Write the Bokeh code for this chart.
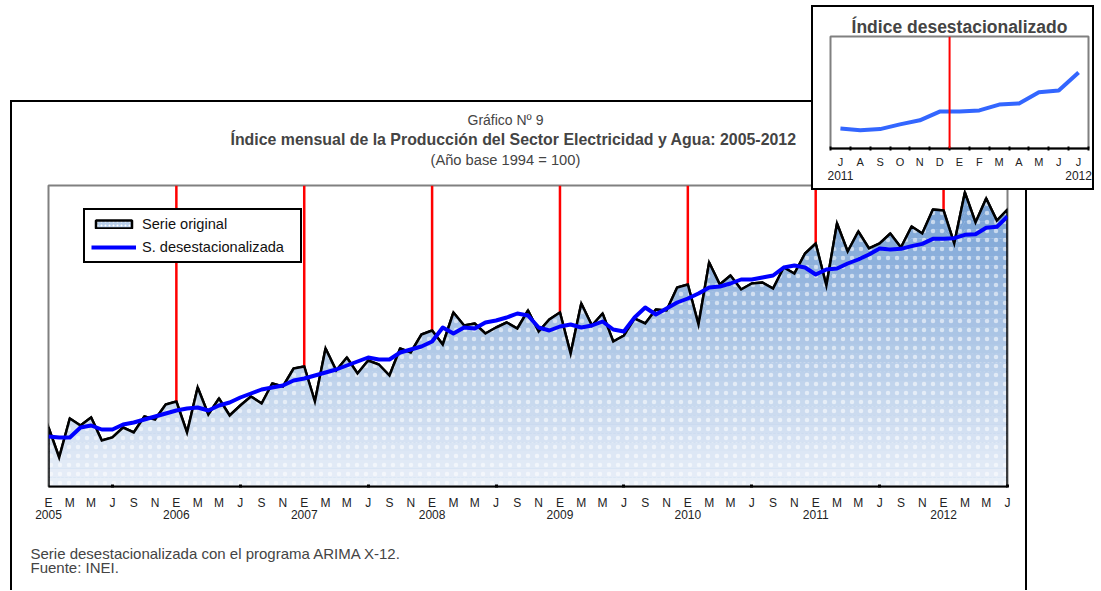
import numpy as np
from bokeh.plotting import figure
from bokeh.models import (Range1d, FixedTicker, LinearAxis, Title, Legend, LegendItem,
                          Span, Column)
from bokeh.embed import file_html
from bokeh.resources import INLINE

# ---------------- data ----------------
month_letters = ["E", "F", "M", "A", "M", "J", "J", "A", "S", "O", "N", "D"]
years = ["2005", "2006", "2007", "2008", "2009", "2010", "2011", "2012"]

# Serie original, Ene 2005 - Jul 2012 (index, units of the chart)
original = [
    167.7, 158.7, 170.4, 168.3, 170.7, 163.8, 164.7, 167.7, 166.2, 171.0, 170.1, 174.6,
    175.5, 166.2, 179.7, 171.6, 176.4, 171.3, 174.3, 177.0, 174.9, 180.9, 180.0, 185.4,
    186.0, 175.5, 191.4, 184.8, 188.7, 183.9, 187.8, 186.6, 183.3, 191.4, 190.2, 195.6,
    196.8, 192.6, 202.2, 198.3, 198.9, 195.9, 197.7, 199.2, 197.4, 202.8, 196.5, 200.1,
    202.2, 189.9, 204.9, 198.3, 201.9, 193.5, 195.3, 200.4, 198.9, 203.1, 202.8, 209.7,
    210.6, 198.6, 217.2, 210.6, 213.3, 209.1, 210.9, 211.2, 209.4, 215.7, 213.9, 219.9,
    222.9, 210.3, 228.9, 220.5, 226.5, 221.4, 222.9, 225.9, 221.7, 228.0, 225.9, 233.1,
    232.8, 222.9, 238.2, 229.2, 236.4, 229.8, 233.1,
]
# Serie desestacionalizada
desest = [
    165.0, 164.7, 164.7, 167.7, 168.3, 167.1, 167.1, 168.6, 169.2, 170.1, 171.0, 171.9,
    172.8, 173.4, 173.7, 172.8, 174.3, 175.2, 176.7, 177.9, 179.1, 179.7, 180.3, 181.8,
    182.4, 183.3, 184.2, 185.1, 186.3, 187.5, 188.7, 188.1, 188.1, 190.2, 191.1, 192.0,
    193.5, 197.7, 195.9, 197.7, 197.4, 199.2, 199.8, 200.7, 201.9, 201.3, 197.7, 196.8,
    198.0, 198.6, 197.7, 198.3, 199.5, 197.1, 196.5, 200.7, 203.7, 201.6, 203.4, 205.2,
    206.4, 207.9, 209.7, 210.0, 210.9, 212.1, 212.1, 212.7, 213.3, 215.7, 216.3, 215.7,
    213.6, 215.1, 215.4, 216.9, 218.1, 219.6, 221.4, 221.1, 221.3, 222.1, 222.8, 224.3,
    224.3, 224.5, 225.5, 225.7, 227.6, 227.9, 231.0,
]
inset_months = ["J", "A", "S", "O", "N", "D", "E", "F", "M", "A", "M", "J", "J"]
inset_years = ["2011", "2012"]
inset_start = 78  # Jul 2011

FONT = "Liberation Sans"

x = list(range(len(original)))
n_last = x[-1]
Y0, Y1 = 150.0, 240.3

# ---------------- main figure ----------------
p = figure(width=1017, height=490, x_range=Range1d(0, n_last), y_range=Range1d(Y0, Y1),
           output_backend="svg", toolbar_location=None, y_axis_location=None,
           min_border_left=38, min_border_right=20, min_border_top=85, min_border_bottom=104,
           title=None)
try:
    p.frame_align = False
except Exception:
    pass
p.xgrid.visible = False
p.ygrid.visible = False
p.outline_line_color = "#808080"
p.outline_line_width = 2
p.background_fill_color = "white"
p.border_fill_alpha = 0

outline_x = [x[0]] + x + [x[-1]]
outline_y = [Y0] + original + [Y0]

# legend patch (under the gradient)
patch_r = p.patch(outline_x, outline_y, fill_color="#b9cfea", line_color="black", line_width=2.5,
                  hatch_pattern="dot", hatch_color="white", hatch_scale=4, hatch_weight=1)

# gradient fill built from bands
NB = 34
edges = np.linspace(Y0, Y1, NB + 1)
top_rgb = np.array([112, 156, 210])
bot_rgb = np.array([234, 240, 249])
orig_arr = np.array(original)
for k in range(NB):
    f = ((edges[k] + edges[k + 1]) / 2 - Y0) / (Y1 - Y0)
    c = bot_rgb + (top_rgb - bot_rgb) * f
    col = "#%02x%02x%02x" % tuple(int(round(v)) for v in c)
    p.varea(x=x, y1=np.minimum(orig_arr, edges[k]), y2=np.minimum(orig_arr, edges[k + 1]),
            fill_color=col)

# dotted texture
p.varea(x=x, y1=Y0, y2=original, fill_alpha=0, hatch_pattern="dot", hatch_color="white",
        hatch_alpha=0.55, hatch_scale=9, hatch_weight=1)

# red January markers
jan_idx = [i for i in x if i % 12 == 0 and i > 0]
jan_val = [original[i] for i in jan_idx]
p.segment(x0=jan_idx, y0=jan_val, x1=jan_idx, y1=[Y1] * len(jan_idx), line_color="#ff0000",
          line_width=2.5)

p.line(outline_x, outline_y, line_color="black", line_width=2.5, line_join="miter")
blue_r = p.line(x, desest, line_color="#0000ff", line_width=4, line_join="round")

legend = Legend(items=[LegendItem(label="Serie original", renderers=[patch_r]),
                       LegendItem(label="S. desestacionalizada", renderers=[blue_r])],
                location=(35, 223), border_line_color="black", border_line_width=2,
                border_line_alpha=1.0,
                padding=6, spacing=7, margin=0, glyph_width=45, glyph_height=10,
                label_height=12, label_width=152, label_standoff=6, label_text_font=FONT,
                label_text_font_size="14.6px", label_text_color="#111111",
                background_fill_alpha=1)
p.add_layout(legend)

xa = p.xaxis[0]
xa.ticker = FixedTicker(ticks=list(range(0, len(x), 2)), minor_ticks=list(range(6, len(x), 12)))
xa.major_label_overrides = {i: month_letters[i % 12] for i in range(0, len(x), 2)}
xa.axis_line_color = "black"
xa.axis_line_width = 2
xa.major_tick_line_color = None
xa.major_tick_in = 0
xa.major_tick_out = 0
xa.minor_tick_line_color = "black"
xa.minor_tick_line_width = 3
xa.minor_tick_in = 2
xa.minor_tick_out = 1
xa.major_label_standoff = 8
xa.major_label_text_font = FONT
xa.major_label_text_font_size = "12px"
xa.major_label_text_color = "#222222"

ya = LinearAxis(ticker=FixedTicker(ticks=list(range(0, len(x), 12))),
                major_label_overrides={i: years[i // 12] for i in range(0, len(x), 12)},
                axis_line_color=None, major_tick_line_color=None, minor_tick_line_color=None,
                major_tick_in=0, major_tick_out=0, major_label_standoff=-3,
                major_label_text_font=FONT, major_label_text_font_size="12px",
                major_label_text_color="#222222")
p.add_layout(ya, "below")

# titles: stacked outward from the frame (a blank spacer first)
p.add_layout(Title(text=" ", align="left", standoff=0, text_font=FONT,
                   text_font_size="14px"), "above")
p.add_layout(Title(text="(Año base 1994 = 100)", align="left", offset=382, standoff=0,
                   text_font=FONT, text_font_size="14.7px", text_font_style="normal"), "above")
p.add_layout(Title(text="Índice mensual de la Producción del Sector Electricidad y Agua: 2005-2012",
                   align="left", offset=182, standoff=3, text_font=FONT,
                   text_font_size="15.9px", text_font_style="bold"), "above")
p.add_layout(Title(text="Gráfico Nº 9", align="left", offset=419, standoff=0,
                   text_font=FONT, text_font_size="14px", text_font_style="normal"), "above")

# footnote: blank spacer, then the two lines
p.add_layout(Title(text=" ", align="left", standoff=5, text_font=FONT,
                   text_font_size="14px"), "below")
p.add_layout(Title(text="Serie desestacionalizada con el programa ARIMA X-12.\nFuente: INEI.",
                   align="left", offset=-18, standoff=0, vertical_align="top",
                   text_font=FONT, text_font_size="15px", text_line_height=0.84,
                   text_font_style="normal"), "below")

# ---------------- inset figure ----------------
ix = list(range(len(inset_months)))
q = figure(frame_width=258, frame_height=112, x_range=Range1d(-0.5, ix[-1] + 0.5),
           y_range=Range1d(217.97, 237.17), output_backend="svg", toolbar_location=None,
           y_axis_location=None, min_border_left=19, min_border_right=6, min_border_top=31,
           min_border_bottom=42, title="Índice desestacionalizado")
try:
    q.frame_align = False
except Exception:
    pass
q.title.align = "center"
q.title.text_font = FONT
q.title.text_font_size = "17.5px"
q.title.text_font_style = "bold"
q.title.standoff = 0
q.xgrid.visible = False
q.ygrid.visible = False
q.outline_line_color = "#808080"
q.outline_line_width = 2
q.border_fill_alpha = 0
q.line(ix, desest[inset_start:inset_start + len(ix)], line_color="#3366ff", line_width=4,
       line_join="round")
q.add_layout(Span(location=5.5, dimension="height", line_color="#ff0000", line_width=2))

qa = q.xaxis[0]
qa.ticker = FixedTicker(ticks=ix, minor_ticks=[i - 0.5 for i in ix] + [ix[-1] + 0.5])
qa.major_label_overrides = {i: m for i, m in zip(ix, inset_months)}
qa.axis_line_color = "black"
qa.axis_line_width = 2
qa.major_tick_line_color = None
qa.major_tick_in = 0
qa.major_tick_out = 0
qa.minor_tick_line_color = "black"
qa.minor_tick_line_width = 2
qa.minor_tick_in = 2
qa.minor_tick_out = 2
qa.major_label_standoff = 5
qa.major_label_text_font = FONT
qa.major_label_text_font_size = "11px"
qa.major_label_text_color = "#222222"

qy = LinearAxis(ticker=FixedTicker(ticks=[ix[0], ix[-1]]),
                major_label_overrides={ix[0]: inset_years[0], ix[-1]: inset_years[1]},
                axis_line_color=None, major_tick_line_color=None, minor_tick_line_color=None,
                major_tick_in=0, major_tick_out=0, major_label_standoff=0,
                major_label_text_font=FONT, major_label_text_font_size="12px",
                major_label_text_color="#222222")
q.add_layout(qy, "below")

# ---------------- page composition ----------------
p.styles = {"position": "absolute", "left": "10px", "top": "100px",
            "box-shadow": "inset 2px 0 0 0 #000, inset -2px 0 0 0 #000, inset 0 2px 0 0 #000"}
q.styles = {"position": "absolute", "left": "811px", "top": "5px", "background": "white",
            "box-shadow": "inset 0 0 0 2px #000", "z-index": "5"}
root = Column(children=[p, q], width=1085, height=575, styles={"position": "relative"})

open("out.html", "w").write(file_html(root, INLINE))
